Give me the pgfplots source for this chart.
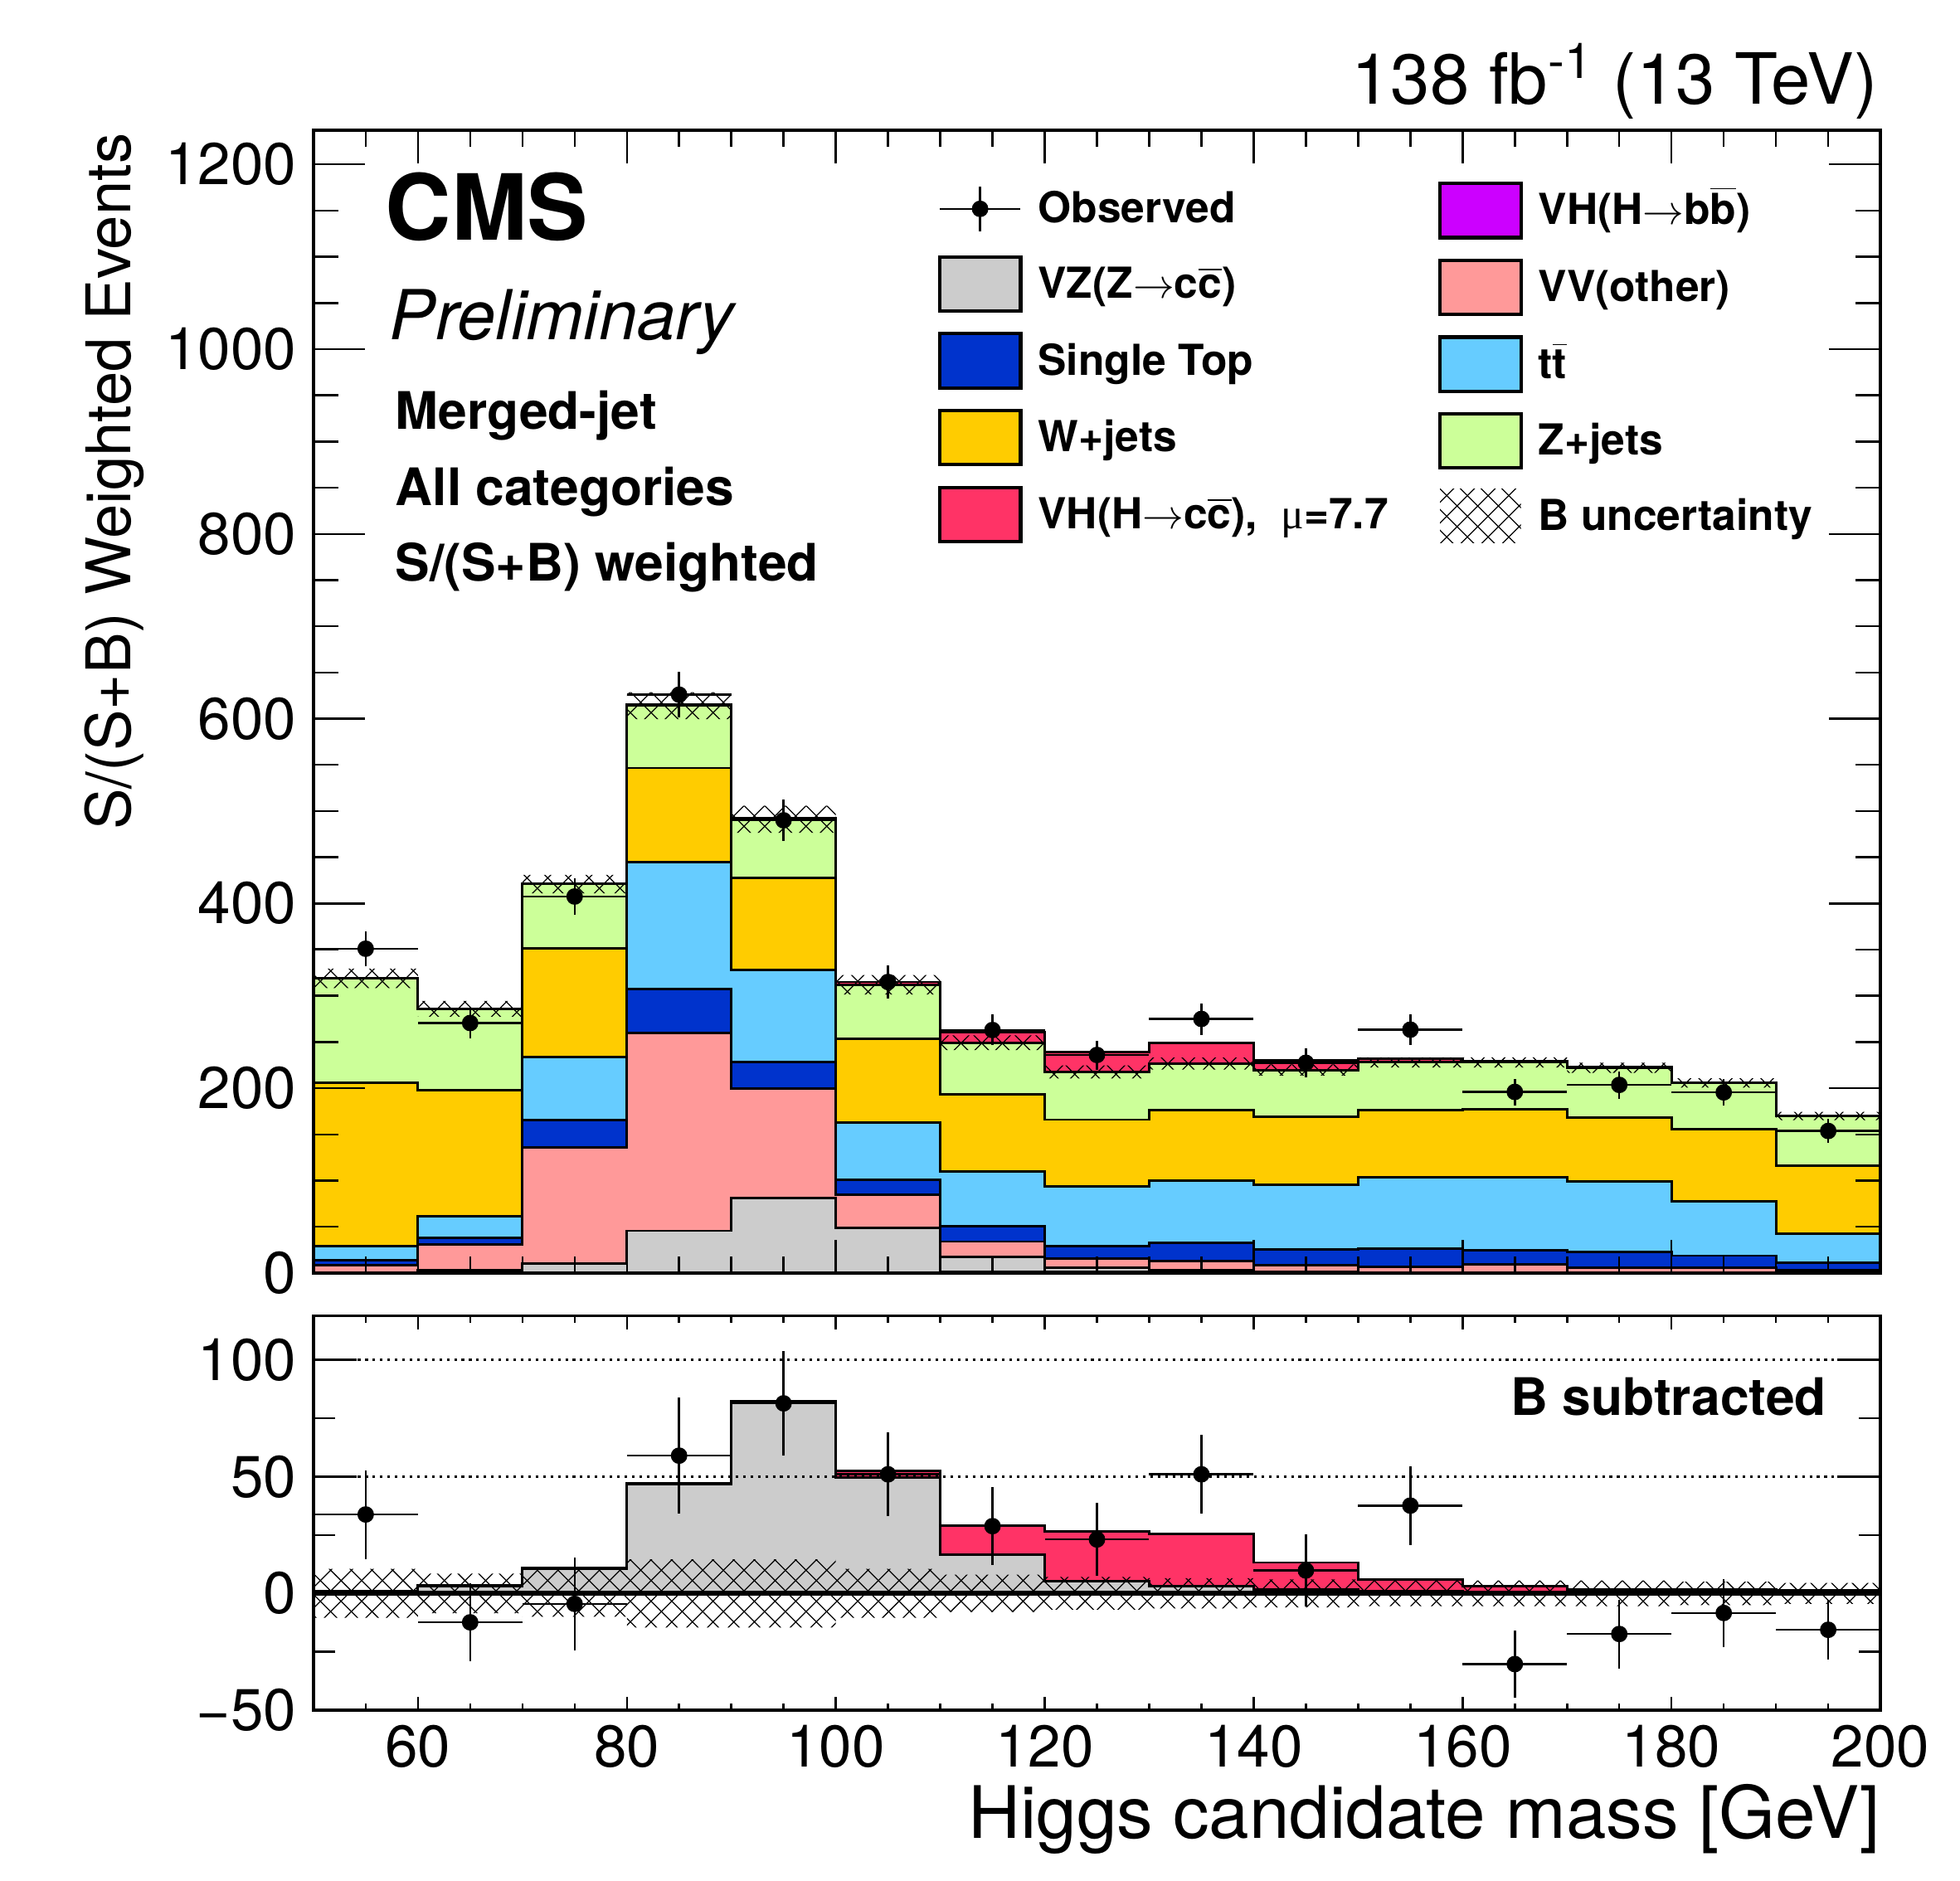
\documentclass[border=0pt]{standalone}
\usepackage{fontspec}
\setmainfont{TeX Gyre Heros}
\newfontfamily\symf{Liberation Serif}
\usepackage{pgfplots}
\usepackage{pgfplotstable}
\pgfplotsset{compat=1.18}
\usetikzlibrary{patterns.meta}

\definecolor{cbb}{HTML}{CC00FF}
\definecolor{cVZ}{HTML}{CCCCCC}
\definecolor{cVV}{HTML}{FF9999}
\definecolor{cST}{HTML}{0033CC}
\definecolor{ctt}{HTML}{66CCFF}
\definecolor{cW}{HTML}{FFCC00}
\definecolor{cZ}{HTML}{CCFF99}
\definecolor{cVH}{HTML}{FF3366}

\tikzdeclarepattern{
  name=bhatch,
  type=uncolored,
  bounding box={(-0.5pt,-0.5pt) and (6.5pt,6.5pt)},
  tile size={(6pt,6pt)},
  code={\draw[line width=0.3pt] (0,0)--(6pt,6pt) (0,6pt)--(6pt,0);}
}

\newcommand{\fs}[1]{\fontsize{#1}{#1}\selectfont}
\newcommand{\ob}[1]{$\overline{\mbox{#1}}$}

\pgfplotstableread{
x bb VZ VV ST tt W Z tot
50 0 0.5 8.4 13.7 28.7 206 319 319.5
60 0 3 31 38.3 61.6 197.6 286 286.3
70 0 10 135.7 165.6 234 351.6 421 421.5
80 0 45.7 259.5 307 445 546.6 614 615
90 0 81 199.7 228.4 328 427.8 491 492
100 0.3 48.7 85 101 163 253.8 312 315
110 1 17.3 34 51 110 193 249.3 261
120 1.5 5.4 15.8 29.3 93.9 166 217.6 238.8
130 1 3 12.8 32.3 99.8 176.7 226.6 249.3
140 0.5 1.5 8.4 25.7 95.3 169.2 219.7 230.5
150 0.3 0.8 6.9 26.6 103.4 176.7 228 232
160 0.2 0.7 9.3 24.8 104 177.3 228 229.5
170 0.2 0.5 5.7 22.7 99 168.6 222 223
180 0.1 0.4 5.7 18.8 77.4 155.8 205.7 206.4
190 0.1 0.3 3.3 11.4 42.8 116.3 170 170.5
200 0.1 0.3 3.3 11.4 42.8 116.3 170 170.5
}\upstack

\pgfplotstableread{
x gray tot
50 0.5 1
60 3 3.3
70 10.5 11
80 46.7 47.3
90 81.5 82.5
100 49.5 52.6
110 16.6 29
120 5.3 26.6
130 3 25.4
140 1.6 13.2
150 0.8 6
160 0.7 3
170 0.5 1.8
180 0.4 1.6
190 0.3 1.3
200 0.3 1.3
}\lostack

\pgfplotstableread{
x y ey
55 351 19
65 270.6 16.7
75 407.5 20
85 626 25
95 490 22.4
105 315 18
115 263 16.6
125 236 15.7
135 275 17
145 227.5 15.5
155 263.4 16.8
165 196 14.4
175 203.6 14.8
185 195.5 14.5
195 153.7 12.9
}\obsup

\pgfplotstableread{
x y ey
55 33.8 19
65 -12.4 16.7
75 -4.5 20
85 59 25
95 81.4 22.4
105 51 18
115 28.8 16.6
125 23.1 15.7
135 51 17
145 9.8 15.5
155 37.6 16.8
165 -30.3 14.4
175 -17.4 14.8
185 -8.4 14.5
195 -15.6 12.9
}\obslo

\pgfplotsset{
  base/.style={
    scale only axis, width=454.9pt, xmin=50, xmax=200, anchor=south west,
    tick align=inside,
    axis line style={line width=0.8pt},
    tick style={black, line width=0.6pt},
    /pgf/number format/assume math mode=true,
    /pgf/number format/1000 sep={},
    tick label style={font=\fs{17.1}},
    scaled ticks=false,
  },
  legbase/.style={
    legend cell align=left,
    legend style={draw=none, fill=none, inner sep=0pt, outer sep=0pt,
      row sep=5.6pt, anchor=north west, font=\fs{12.4}\bfseries,
      nodes={inner xsep=4.6pt, inner ysep=0pt, text height=8.2pt, text depth=0pt}},
  },
  legbox/.style={legend image code/.code={\draw[fill=#1, line width=1pt] (0pt,-7.85pt) rectangle (23.5pt,7.85pt);}},
  stk/.style={const plot mark left, fill=#1, draw=black, line width=0.7pt, forget plot},
  obs/.style={only marks, mark=*, mark size=2.2pt, black, forget plot,
    error bars/.cd, x dir=both, x fixed=5, y dir=both, y explicit,
    error mark=none, error bar style={line width=0.6pt, black}},
}

\begin{document}
\begin{tikzpicture}
% ---------- upper panel: data ----------
\begin{axis}[base, legbase, at={(91.0pt,176.3pt)}, height=331.8pt,
  ymin=0, ymax=1237, axis on top,
  xtick={60,80,...,200}, minor xtick={50,55,...,200}, xticklabels={},
  ytick=\empty, major tick length=9.6pt, minor tick length=4.8pt,
  legend style={at={(0.3985,0.9548)}}]
\addplot[stk=cVH] table[x=x,y=tot] {\upstack} \closedcycle;
\addplot[stk=cZ] table[x=x,y=Z] {\upstack} \closedcycle;
\addplot[stk=cW] table[x=x,y=W] {\upstack} \closedcycle;
\addplot[stk=ctt] table[x=x,y=tt] {\upstack} \closedcycle;
\addplot[stk=cST] table[x=x,y=ST] {\upstack} \closedcycle;
\addplot[stk=cVV] table[x=x,y=VV] {\upstack} \closedcycle;
\addplot[stk=cVZ] table[x=x,y=VZ] {\upstack} \closedcycle;
\addplot[stk=cbb] table[x=x,y=bb] {\upstack} \closedcycle;
\addplot[pattern=bhatch, pattern color=black, draw=none, forget plot] coordinates {
(50,329.5) (60,329.5) (60,294.5) (70,294.5) (70,431) (80,431) (80,628.6) (90,628.6)
(90,505.6) (100,505.6) (100,322.5) (110,322.5) (110,257.3) (120,257.3) (120,224.6) (130,224.6)
(130,233.1) (140,233.1) (140,225.7) (150,225.7) (150,233.5) (170,233.5) (170,227.5) (180,227.5)
(180,210.7) (190,210.7) (190,174.5) (200,174.5) (200,165.5) (190,165.5) (190,200.7) (180,200.7)
(180,216.5) (170,216.5) (170,222.5) (150,222.5) (150,213.7) (140,213.7) (140,220.1) (130,220.1)
(130,210.6) (120,210.6) (120,241.3) (110,241.3) (110,301.5) (100,301.5) (100,476.4) (90,476.4)
(90,599.4) (80,599.4) (80,411) (70,411) (70,277.5) (60,277.5) (60,308.5) (50,308.5)};
\addplot[obs] table[x=x,y=y,y error=ey] {\obsup};
\addlegendimage{legend image code/.code={
  \path[draw=none, fill=none] (0pt,-7.85pt) rectangle (23.5pt,7.85pt);
  \draw[black, line width=0.6pt] (0pt,0pt) -- (23.5pt,0pt) (11.75pt,-6.5pt) -- (11.75pt,6.5pt);
  \fill[black] (11.75pt,0pt) circle (2.2pt);}}
\addlegendentry{Observed}
\addlegendimage{legbox=cVZ}
\addlegendentry{VZ(Z$\rightarrow$c\ob{c})}
\addlegendimage{legbox=cST}
\addlegendentry{Single Top}
\addlegendimage{legbox=cW}
\addlegendentry{W+jets}
\addlegendimage{legbox=cVH}
\addlegendentry{VH(H$\rightarrow$c\ob{c}),\ \ {\symf\mdseries μ}=7.7}
\end{axis}
% ---------- upper panel: y ticks + second legend column ----------
\begin{axis}[base, legbase, at={(91.0pt,176.3pt)}, height=331.8pt,
  ymin=0, ymax=1237, xtick=\empty,
  ytick={0,200,...,1200}, minor ytick={0,50,...,1200},
  major tick length=14.9pt, minor tick length=7.2pt,
  yticklabel style={inner xsep=0pt, xshift=-4.8pt},
  legend style={at={(0.7178,0.9548)}}]
\addlegendimage{legbox=cbb}
\addlegendentry{VH(H$\rightarrow$b\ob{b})}
\addlegendimage{legbox=cVV}
\addlegendentry{VV(other)}
\addlegendimage{legbox=ctt}
\addlegendentry{t\ob{t}}
\addlegendimage{legbox=cZ}
\addlegendentry{Z+jets}
\addlegendimage{legend image code/.code={
  \path[draw=none, pattern=bhatch, pattern color=black] (0pt,-7.85pt) rectangle (23.5pt,7.85pt);}}
\addlegendentry{B uncertainty}
\end{axis}
% ---------- lower panel: data ----------
\begin{axis}[base, at={(91.0pt,49.4pt)}, height=114.4pt,
  ymin=-50, ymax=118.8, axis on top,
  xtick={60,80,...,200}, minor xtick={50,55,...,200},
  xticklabel style={anchor=north, inner sep=0pt, yshift=-4.3pt},
  ytick=\empty, major tick length=3.9pt, minor tick length=1.9pt]
\addplot[stk=cVH] table[x=x,y=tot] {\lostack} \closedcycle;
\addplot[stk=cVZ] table[x=x,y=gray] {\lostack} \closedcycle;
\addplot[pattern=bhatch, pattern color=black, draw=none, forget plot] coordinates {
(50,10.5) (60,10.5) (60,8.5) (70,8.5) (70,10) (80,10) (80,14.6) (100,14.6) (100,10.5) (110,10.5)
(110,8) (120,8) (120,7) (130,7) (130,6.5) (140,6.5) (140,6) (150,6) (150,5.5) (180,5.5) (180,5)
(190,5) (190,4.5) (200,4.5) (200,-4.5) (190,-4.5) (190,-5) (180,-5) (180,-5.5) (150,-5.5) (150,-6)
(140,-6) (140,-6.5) (130,-6.5) (130,-7) (120,-7) (120,-8) (110,-8) (110,-10.5) (100,-10.5)
(100,-14.6) (80,-14.6) (80,-10) (70,-10) (70,-8.5) (60,-8.5) (60,-10.5) (50,-10.5)};
\addplot[black, line width=0.75pt, dash pattern=on 0.75pt off 1.4pt, forget plot] coordinates {(50,50) (200,50)};
\addplot[black, line width=0.75pt, dash pattern=on 0.75pt off 1.4pt, forget plot] coordinates {(50,100) (200,100)};
\addplot[black, line width=1.3pt, forget plot] coordinates {(50,0) (200,0)};
\addplot[obs] table[x=x,y=y,y error=ey] {\obslo};
\end{axis}
% ---------- lower panel: y ticks ----------
\begin{axis}[base, at={(91.0pt,49.4pt)}, height=114.4pt,
  ymin=-50, ymax=118.8, xtick=\empty,
  ytick={-50,0,50,100}, yticklabels={−50,0,50,100}, minor ytick={-50,-25,...,100},
  major tick length=12.6pt, minor tick length=6.2pt,
  yticklabel style={inner xsep=0pt, xshift=-4.8pt}]
\end{axis}
% ---------- texts ----------
\node[anchor=base east, font=\fs{20.5}, inner sep=0pt] at (545.2pt,515.6pt) {138 fb\textsuperscript{-1} (13 TeV)};
\node[anchor=base west, font=\fs{26.5}\bfseries, inner sep=0pt] at (111.7pt,476.3pt) {CMS};
\node[anchor=base west, font=\fs{20}\itshape, inner sep=0pt] at (112.9pt,447.2pt) {Preliminary};
\node[anchor=base west, font=\fs{15}\bfseries, inner sep=0pt] at (114.6pt,421.4pt) {Merged-jet};
\node[anchor=base west, font=\fs{15}\bfseries, inner sep=0pt] at (114.6pt,399.2pt) {All categories};
\node[anchor=base west, font=\fs{15}\bfseries, inner sep=0pt] at (114.6pt,377.1pt) {S/(S+B) weighted};
\node[anchor=base east, font=\fs{15}\bfseries, inner sep=0pt] at (530.4pt,135.1pt) {B subtracted};
\node[rotate=90, anchor=base east, font=\fs{17.9}, inner sep=0pt] at (38.0pt,507.4pt) {S/(S+B) Weighted Events};
\node[anchor=base east, font=\fs{21}, inner sep=0pt] at (545.9pt,12.1pt) {Higgs candidate mass [GeV]};
\pgfresetboundingbox
\path[use as bounding box] (0,0) rectangle (569.0pt,545.9pt);
\end{tikzpicture}
\end{document}
